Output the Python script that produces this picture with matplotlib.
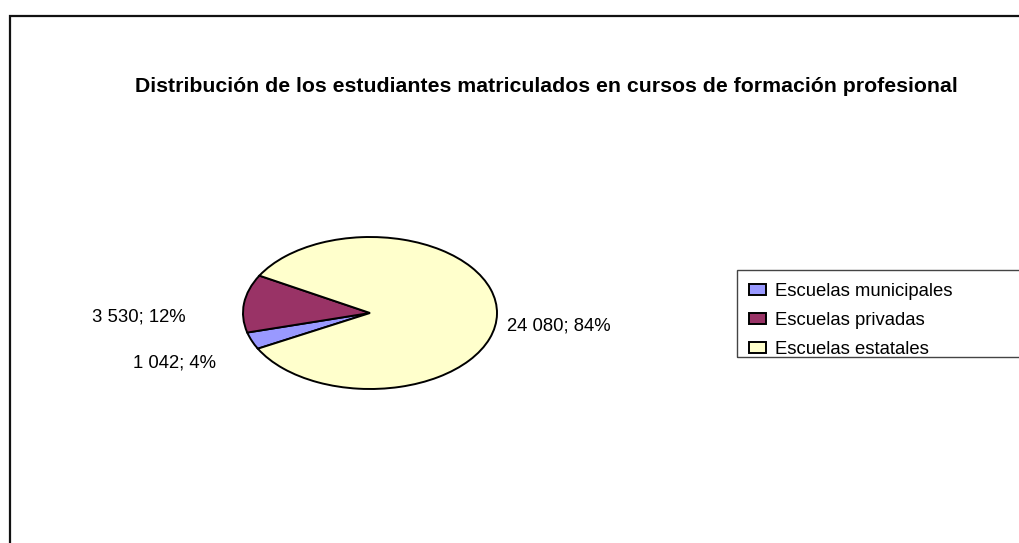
import matplotlib.pyplot as plt
from matplotlib.patches import Rectangle

# Datos
categorias = ['Escuelas municipales', 'Escuelas privadas', 'Escuelas estatales']
valores = [1042, 3530, 24080]
colores = ['#9999FF', '#993366', '#FFFFCC']
titulo = 'Distribución de los estudiantes matriculados en cursos de formación profesional'

plt.rcParams['font.family'] = ['Liberation Sans', 'DejaVu Sans']

W, H = 1019, 543
fig = plt.figure(figsize=(W / 100, H / 100), dpi=100)


def fx(px):
    return px / W


def fy(py):
    return 1 - py / H


# marco del gráfico (cortado a la derecha y abajo)
fig.patches.append(Rectangle((fx(9.5), fy(600)), fx(1100), fy(16) - fy(600),
                             transform=fig.transFigure, fill=False,
                             edgecolor='#111111', linewidth=1.6))

# pastel aplanado
ax = fig.add_axes([fx(243), fy(389), fx(497) - fx(243), fy(237) - fy(389)])
wedges, _ = ax.pie(valores, colors=colores, startangle=208, counterclock=False,
                   wedgeprops=dict(edgecolor='black', linewidth=1.4))
ax.set_aspect('auto')
ax.set_xlim(-1, 1)
ax.set_ylim(-1, 1)
ax.axis('off')

fig.text(fx(546), fy(87), titulo, ha='center', va='center',
         fontsize=15.3, fontweight='bold')

# etiquetas de datos
total = sum(valores)
pos_etiquetas = [(133, 363), (92, 317), (507, 326)]
for v, (x, y) in zip(valores, pos_etiquetas):
    txt = f"{v:,}".replace(",", " ") + f"; {round(100 * v / total)}%"
    fig.text(fx(x), fy(y), txt, ha='left', va='center', fontsize=13.3)

# leyenda
fig.patches.append(Rectangle((fx(737), fy(357)), fx(400), fy(270) - fy(357),
                             transform=fig.transFigure, fill=False,
                             edgecolor='#444444', linewidth=1.0))
fig.legend(wedges, categorias, loc='upper left',
           bbox_to_anchor=(fx(749), fy(283)), frameon=False,
           fontsize=13.3, handlelength=0.92, handleheight=0.54,
           handletextpad=0.5, labelspacing=0.64, borderaxespad=0, borderpad=0)

fig.savefig('out.png', dpi=100)
